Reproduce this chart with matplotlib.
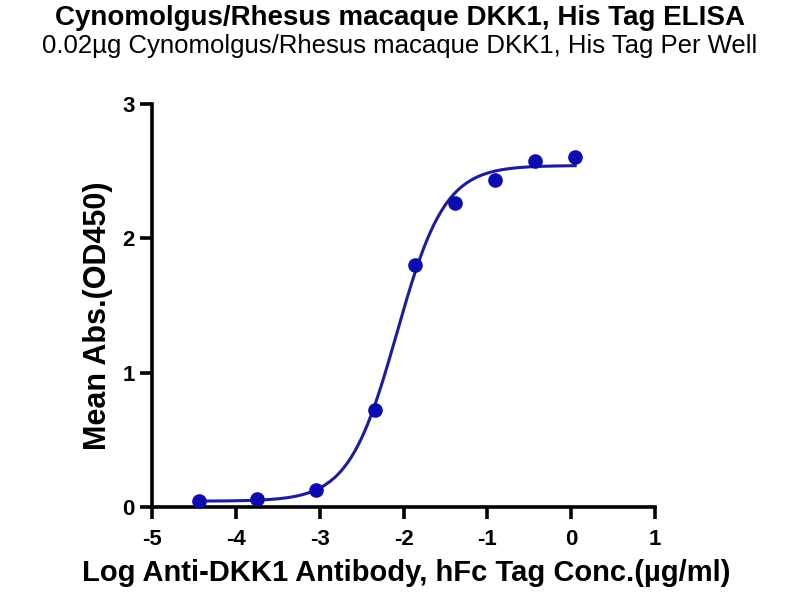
import numpy as np
import matplotlib
matplotlib.use("Agg")
import matplotlib.pyplot as plt

plt.rcParams['font.family'] = ['Liberation Sans', 'DejaVu Sans']
plt.rcParams['axes.unicode_minus'] = False

# measured points (log conc, mean OD450)
log_conc = [-4.44, -3.75, -3.04, -2.345, -1.869, -1.389, -0.907, -0.43, 0.046]
mean_abs = [0.047, 0.06, 0.129, 0.719, 1.798, 2.262, 2.43, 2.572, 2.604]

title = "Cynomolgus/Rhesus macaque DKK1, His Tag ELISA"
subtitle = "0.02\u00b5g Cynomolgus/Rhesus macaque DKK1, His Tag Per Well"
xlabel = "Log Anti-DKK1 Antibody, hFc Tag Conc.(\u00b5g/ml)"
ylabel = "Mean Abs.(OD450)"

x = np.array(log_conc)
y = np.array(mean_abs)


def fourpl(p, xx):
    bottom, top, logec50, hill = p
    return bottom + (top - bottom) / (1 + 10 ** ((logec50 - xx) * hill))


# simple damped Gauss-Newton fit of the 4PL curve to the points
p = np.array([0.05, 2.55, -2.1, 1.5])
for _ in range(200):
    r = y - fourpl(p, x)
    J = np.zeros((len(x), 4))
    for k in range(4):
        dp = np.zeros(4)
        dp[k] = 1e-6
        J[:, k] = (fourpl(p + dp, x) - fourpl(p - dp, x)) / 2e-6
    step = np.linalg.solve(J.T @ J + 1e-3 * np.eye(4), J.T @ r)
    p = p + 0.5 * step

xs = np.linspace(x.min(), x.max(), 300)
ys = fourpl(p, xs)

fig = plt.figure(figsize=(8, 6), dpi=100)
ax = fig.add_axes([0.19, 0.155, 0.629, 0.672])

ax.plot(xs, ys, color='#1c1c9c', lw=2.2, zorder=2)
ax.plot(x, y, 'o', color='#0b0bb0', ms=9.5, zorder=3, clip_on=False)

ax.set_xlim(-5, 1)
ax.set_ylim(0, 3)
ax.set_xticks([-5, -4, -3, -2, -1, 0, 1])
ax.set_yticks([0, 1, 2, 3])
for s in ['top', 'right']:
    ax.spines[s].set_visible(False)
for s in ['left', 'bottom']:
    ax.spines[s].set_linewidth(2.6)
ax.tick_params(width=2.6, length=8.5, labelsize=16)
ax.tick_params(axis='x', pad=7)
ax.tick_params(axis='y', pad=4)
for lab in ax.get_xticklabels() + ax.get_yticklabels():
    lab.set_fontweight('bold')

ax.set_xlabel(xlabel, fontsize=21, fontweight='bold', va='baseline')
ax.xaxis.set_label_coords(0.505, -0.1845)
ax.set_ylabel(ylabel, fontsize=22, fontweight='bold')
ax.yaxis.set_label_coords(-0.078, 0.475)

fig.text(0.5, 0.958, title, ha='center', va='baseline', fontsize=20, fontweight='bold')
fig.text(0.5, 0.911, subtitle, ha='center', va='baseline', fontsize=18.5)

fig.savefig('out.png', dpi=100)
